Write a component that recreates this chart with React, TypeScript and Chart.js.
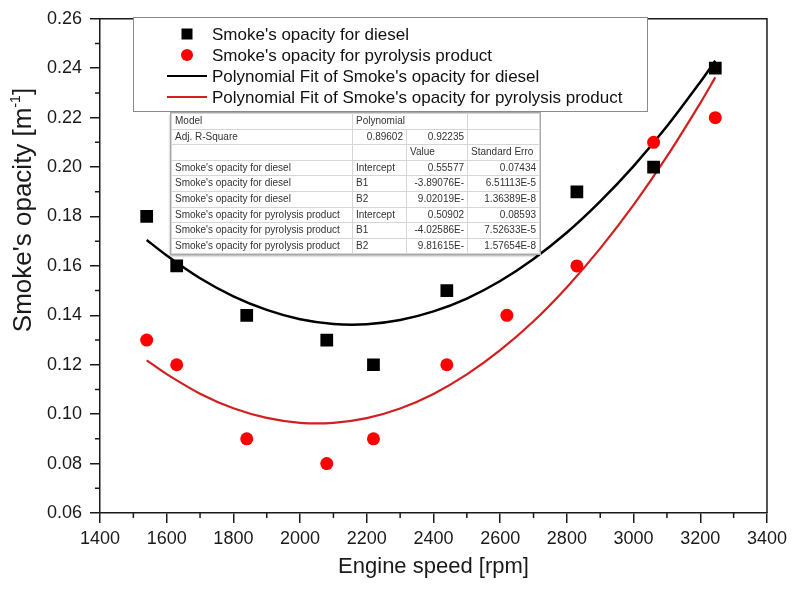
import React, { useEffect, useRef } from 'react';
import { Chart, registerables } from 'chart.js';

Chart.register(...registerables);

// ---- data ----
const dieselRpm = [1540, 1630, 1840, 2080, 2220, 2440, 2830, 3060, 3245];
const dieselOpacity = [0.18, 0.16, 0.14, 0.13, 0.12, 0.15, 0.19, 0.2, 0.24];
const pyroRpm = [1540, 1630, 1840, 2080, 2220, 2440, 2620, 2830, 3060, 3245];
const pyroOpacity = [0.13, 0.12, 0.09, 0.08, 0.09, 0.12, 0.14, 0.16, 0.21, 0.22];
const fitRpm = [1540, 1600, 1700, 1800, 1900, 2000, 2100, 2200, 2300, 2400, 2500, 2600, 2700, 2800, 2900, 3000, 3100, 3200, 3245];
const dieselFit = [0.1705, 0.1642, 0.155, 0.1477, 0.1422, 0.1384, 0.1365, 0.1364, 0.1381, 0.1416, 0.1468, 0.1539, 0.1628, 0.1735, 0.1861, 0.2004, 0.2165, 0.2344, 0.243];
const pyroFit = [0.1218, 0.1162, 0.1083, 0.1024, 0.0985, 0.0965, 0.0965, 0.0984, 0.1023, 0.1082, 0.1161, 0.1259, 0.1376, 0.1514, 0.1671, 0.1847, 0.2043, 0.2259, 0.2363];

const xMinorTicks = [1500, 1700, 1900, 2100, 2300, 2500, 2700, 2900, 3100, 3300];
const yMinorTicks = [0.07, 0.09, 0.11, 0.13, 0.15, 0.17, 0.19, 0.21, 0.23, 0.25];

const seriesLabels = [
  "Smoke's opacity for diesel",
  "Smoke's opacity for pyrolysis product",
  "Polynomial Fit of Smoke's opacity for diesel",
  "Polynomial Fit of Smoke's opacity for pyrolysis product",
];

const fitTable: string[][] = [
  ["Smoke's opacity for diesel", 'Intercept', '0.55577', '0.07434'],
  ["Smoke's opacity for diesel", 'B1', '-3.89076E-', '6.51113E-5'],
  ["Smoke's opacity for diesel", 'B2', '9.02019E-', '1.36389E-8'],
  ["Smoke's opacity for pyrolysis product", 'Intercept', '0.50902', '0.08593'],
  ["Smoke's opacity for pyrolysis product", 'B1', '-4.02586E-', '7.52633E-5'],
  ["Smoke's opacity for pyrolysis product", 'B2', '9.81615E-', '1.57654E-8'],
];
const adjR2 = ['0.89602', '0.92235'];

const FAMILY = '"Liberation Sans", Arial, Helvetica, sans-serif';
const AXIS_COLOR = '#1a1a1a';
const FIT_RED = '#d21f1f';

const toXY = (xs: number[], ys: number[]) => xs.map((x, i) => ({ x, y: ys[i] }));

const framePlugin = {
  id: 'frameAndMinor',
  afterDraw(chart: any) {
    const { ctx, chartArea } = chart;
    const xs = chart.scales.x;
    const ys = chart.scales.y;
    ctx.save();
    ctx.strokeStyle = AXIS_COLOR;
    ctx.lineWidth = 1.5;
    ctx.beginPath();
    ctx.moveTo(chartArea.left, chartArea.top);
    ctx.lineTo(chartArea.right, chartArea.top);
    ctx.lineTo(chartArea.right, chartArea.bottom);
    ctx.stroke();
    ctx.beginPath();
    for (const v of xMinorTicks) {
      const px = xs.getPixelForValue(v);
      ctx.moveTo(px, chartArea.bottom);
      ctx.lineTo(px, chartArea.bottom + 5);
    }
    for (const v of yMinorTicks) {
      const py = ys.getPixelForValue(v);
      ctx.moveTo(chartArea.left - 5, py);
      ctx.lineTo(chartArea.left, py);
    }
    ctx.stroke();
    ctx.restore();
  },
};

const yTitlePlugin = {
  id: 'yTitle',
  afterDraw(chart: any) {
    const ctx = chart.ctx;
    const size = 26;
    const parts: [string, string, number][] = [
      ["Smoke's opacity [m", `${size}px ${FAMILY}`, 0],
      ['-1', `14px ${FAMILY}`, -11],
      [']', `${size}px ${FAMILY}`, 0],
    ];
    let total = 0;
    const widths = parts.map(([t, f]) => {
      ctx.font = f;
      const w = ctx.measureText(t).width;
      total += w;
      return w;
    });
    ctx.save();
    ctx.translate(22, 210);
    ctx.rotate(-Math.PI / 2);
    ctx.fillStyle = AXIS_COLOR;
    ctx.textBaseline = 'alphabetic';
    ctx.textAlign = 'left';
    let x = -total / 2;
    parts.forEach(([t, f, dy], i) => {
      ctx.font = f;
      ctx.fillText(t, x, size * 0.35 + dy);
      x += widths[i];
    });
    ctx.restore();
  },
};

const legendPlugin = {
  id: 'boxLegend',
  afterDraw(chart: any) {
    const ctx = chart.ctx;
    const ds = chart.data.datasets;
    ctx.save();
    ctx.fillStyle = '#fff';
    ctx.fillRect(133, 17, 514, 94);
    ctx.strokeStyle = '#8a8a8a';
    ctx.lineWidth = 1;
    ctx.strokeRect(133.5, 17.5, 514, 94);
    ctx.font = `17px ${FAMILY}`;
    ctx.textBaseline = 'middle';
    ctx.textAlign = 'left';
    ds.forEach((d: any, i: number) => {
      const cy = 34 + i * 21;
      if (i === 0) {
        ctx.fillStyle = d.backgroundColor;
        ctx.fillRect(181.5, cy - 5.5, 11, 11);
      } else if (i === 1) {
        ctx.fillStyle = d.backgroundColor;
        ctx.beginPath();
        ctx.arc(187, cy, 6, 0, Math.PI * 2);
        ctx.fill();
      } else {
        ctx.strokeStyle = d.borderColor;
        ctx.lineWidth = 2;
        ctx.beginPath();
        ctx.moveTo(167, cy);
        ctx.lineTo(207, cy);
        ctx.stroke();
      }
      ctx.fillStyle = '#111';
      ctx.fillText(d.label, 212, cy + 1);
    });
    ctx.restore();
  },
};

const cellBase: React.CSSProperties = {
  border: '1px solid #d6d6d6',
  padding: '0 3px',
  height: 14.6,
  lineHeight: '14.6px',
  whiteSpace: 'nowrap',
  overflow: 'hidden',
};
const L: React.CSSProperties = { ...cellBase, textAlign: 'left' };
const R: React.CSSProperties = { ...cellBase, textAlign: 'right' };

function FitTable() {
  return (
    <table
      style={{
        position: 'absolute',
        left: 171,
        top: 113,
        width: 368,
        tableLayout: 'fixed',
        borderCollapse: 'collapse',
        background: '#fff',
        font: `10px ${FAMILY}`,
        color: '#333',
        outline: '1px solid #a8a8a8',
        boxShadow: '-1px 2px 2px rgba(0,0,0,0.35)',
      }}
    >
      <colgroup>
        <col style={{ width: 181 }} />
        <col style={{ width: 54 }} />
        <col style={{ width: 61 }} />
        <col style={{ width: 72 }} />
      </colgroup>
      <tbody>
        <tr>
          <td style={L}>Model</td>
          <td style={L} colSpan={2}>Polynomial</td>
          <td style={L}></td>
        </tr>
        <tr>
          <td style={L}>Adj. R-Square</td>
          <td style={R}>{adjR2[0]}</td>
          <td style={R}>{adjR2[1]}</td>
          <td style={L}></td>
        </tr>
        <tr>
          <td style={L}></td>
          <td style={L}></td>
          <td style={L}>Value</td>
          <td style={{ ...L, paddingRight: 0 }}>Standard Erro</td>
        </tr>
        {fitTable.map((r, i) => (
          <tr key={i}>
            <td style={L}>{r[0]}</td>
            <td style={L}>{r[1]}</td>
            <td style={R}>{r[2]}</td>
            <td style={R}>{r[3]}</td>
          </tr>
        ))}
      </tbody>
    </table>
  );
}

export default function App() {
  const ref = useRef<HTMLCanvasElement | null>(null);

  useEffect(() => {
    if (!ref.current) return;
    const chart = new Chart(ref.current, {
      type: 'scatter',
      data: {
        datasets: [
          {
            label: seriesLabels[0],
            data: toXY(dieselRpm, dieselOpacity),
            pointStyle: 'rect',
            pointRadius: 9,
            backgroundColor: '#000',
            borderColor: '#000',
            borderWidth: 0,
            showLine: false,
          },
          {
            label: seriesLabels[1],
            data: toXY(pyroRpm, pyroOpacity),
            pointStyle: 'circle',
            pointRadius: 6.5,
            backgroundColor: '#ff0000',
            borderColor: '#ff0000',
            borderWidth: 0,
            showLine: false,
          },
          {
            label: seriesLabels[2],
            data: toXY(fitRpm, dieselFit),
            showLine: true,
            pointRadius: 0,
            borderColor: '#000',
            backgroundColor: '#000',
            borderWidth: 2.5,
            tension: 0.3,
          },
          {
            label: seriesLabels[3],
            data: toXY(fitRpm, pyroFit),
            showLine: true,
            pointRadius: 0,
            borderColor: FIT_RED,
            backgroundColor: FIT_RED,
            borderWidth: 2.2,
            tension: 0.3,
          },
        ],
      },
      options: {
        animation: false,
        responsive: false,
        devicePixelRatio: 1,
        layout: { padding: { top: 14, right: 23, left: 0, bottom: 0 } },
        plugins: {
          legend: { display: false },
          tooltip: { enabled: false },
        },
        scales: {
          x: {
            type: 'linear',
            min: 1400,
            max: 3400,
            afterFit: (s: any) => {
              s.height = 76;
            },
            ticks: {
              stepSize: 200,
              autoSkip: false,
              maxRotation: 0,
              padding: 5,
              color: AXIS_COLOR,
              font: { family: FAMILY, size: 18 },
              callback: (v: any) => String(v),
            },
            grid: {
              display: true,
              drawOnChartArea: false,
              drawTicks: true,
              tickLength: 10,
              color: AXIS_COLOR,
              lineWidth: 1.5,
            },
            border: { display: true, color: AXIS_COLOR, width: 1.5 },
            title: {
              display: true,
              text: 'Engine speed [rpm]',
              color: AXIS_COLOR,
              font: { family: FAMILY, size: 22 },
              padding: { top: 0, bottom: 9 },
            },
          },
          y: {
            type: 'linear',
            min: 0.06,
            max: 0.26,
            afterFit: (s: any) => {
              s.width = 100;
            },
            ticks: {
              stepSize: 0.02,
              padding: 8,
              color: AXIS_COLOR,
              font: { family: FAMILY, size: 18 },
              callback: (v: any) => Number(v).toFixed(2),
            },
            grid: {
              display: true,
              drawOnChartArea: false,
              drawTicks: true,
              tickLength: 10,
              color: AXIS_COLOR,
              lineWidth: 1.5,
            },
            border: { display: true, color: AXIS_COLOR, width: 1.5 },
            title: { display: false },
          },
        },
      },
      plugins: [framePlugin, yTitlePlugin, legendPlugin],
    } as any);
    return () => chart.destroy();
  }, []);

  return (
    <div style={{ position: 'absolute', left: 0, top: 0, width: 792, height: 589, background: '#fff' }}>
      <canvas ref={ref} width={792} height={589} style={{ display: 'block' }} />
      <FitTable />
    </div>
  );
}
